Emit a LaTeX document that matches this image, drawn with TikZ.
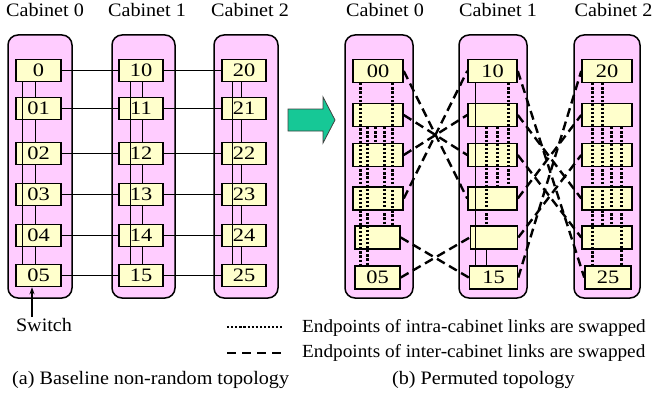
\documentclass[tikz,border=0pt]{standalone}
\usepackage{fontspec}
\setmainfont[FakeStretch=1.06]{Liberation Serif}
\newfontfamily\numfont[FakeStretch=1.18]{Liberation Serif}
\newfontfamily\legendfont[FakeStretch=1.04]{Liberation Serif}
\usetikzlibrary{arrows.meta}

\definecolor{cabpink}{RGB}{255,204,255}
\definecolor{swyellow}{RGB}{255,255,204}
\definecolor{arrowgreen}{RGB}{22,200,150}

\begin{document}
\begin{tikzpicture}[x=1pt,y=-1pt,
  cab/.style={draw=black, line width=1.5pt, fill=cabpink, rounded corners=10pt, inner sep=0pt},
  sw/.style={draw=black, line width=1.5pt, fill=swyellow, minimum height=22pt, inner sep=0pt,
    font=\numfont\fontsize{19}{19}\selectfont},
  swr/.style={sw, minimum height=23pt},
  link/.style={line width=1.2pt},
  dotlink/.style={line width=2.8pt, dash pattern=on 2.2pt off 1.9pt},
  dashlink/.style={line width=2.4pt, dash pattern=on 9pt off 5pt},
  lbl/.style={font=\fontsize{19}{22}\selectfont, inner sep=0pt},
  legendtext/.style={font=\legendfont\fontsize{18.5}{22}\selectfont, inner sep=0pt}]
\useasboundingbox (0,0) rectangle (652,401);
\fill[white] (0,0) rectangle (652,401);

% ---------- (a) baseline topology ----------
\node[cab, minimum width=64pt, minimum height=263pt] (ca0) at (40,166.5) {};
\node[cab, minimum width=63pt, minimum height=263pt] (ca1) at (143.5,166.5) {};
\node[cab, minimum width=64pt, minimum height=263pt] (ca2) at (246,166.5) {};

\node[lbl, anchor=base] (tca0) at (45,17) {Cabinet 0};
\node[lbl, anchor=base] (tca1) at (147,17) {Cabinet 1};
\node[lbl, anchor=base] (tca2) at (250,17) {Cabinet 2};

\foreach \r/\y/\la/\lb/\lc in {0/70.5/0/10/20, 1/108.5/01/11/21, 2/153.5/02/12/22,
                               3/194.5/03/13/23, 4/235.5/04/14/24, 5/275.5/05/15/25} {
  \node[sw, minimum width=45pt] (a0\r) at (38.5,\y) {\la};
  \node[sw, minimum width=44pt] (a1\r) at (141,\y) {\lb};
  \node[sw, minimum width=44pt] (a2\r) at (244,\y) {\lc};
}

% links between neighbouring switches of a cabinet
\foreach \r/\s in {0/1,1/2,2/3,3/4,4/5} {
  \draw[link] ([xshift=20pt]a0\r.south west) -- ([xshift=20pt]a0\r.south west |- a0\s.north);
  \draw[link] ([xshift=24pt]a1\r.south west) -- ([xshift=24pt]a1\r.south west |- a1\s.north);
  \draw[link] ([xshift=20pt]a2\r.south west) -- ([xshift=20pt]a2\r.south west |- a2\s.north);
}
% wrap-around links from top to bottom switch
\draw[link] ([xshift=7pt]a00.south west) -- ([xshift=7pt]a00.south west |- a05.north);
\draw[link] ([xshift=12pt]a10.south west) -- ([xshift=12pt]a10.south west |- a15.north);
\draw[link] ([xshift=11pt]a20.south west) -- ([xshift=11pt]a20.south west |- a25.north);

% inter-cabinet links
\foreach \r in {0,...,5} {
  \draw[link] (a0\r.east) -- (a1\r.west);
  \draw[link] (a1\r.east) -- (a2\r.west);
}

\coordinate (swtail) at (32,317);
\draw[line width=1.1pt, -{Stealth[length=7pt,width=5pt]}] (swtail) -- (swtail |- a05.south);
\node[lbl, anchor=base] (swlbl) at (44,331) {Switch};

\node[lbl, anchor=base west] (capa) at (12,384) {(a) Baseline non-random topology};

% ---------- transition arrow ----------
\draw[fill=arrowgreen, draw=black!75, line width=0.8pt]
  (288,109) -- (323,109) -- (323,97) -- (335,120) -- (323,143) -- (323,131) -- (288,131) -- cycle;

% ---------- (b) permuted topology ----------
\node[cab, minimum width=68pt, minimum height=263pt] (cb0) at (379,166.5) {};
\node[cab, minimum width=68pt, minimum height=263pt] (cb1) at (493,166.5) {};
\node[cab, minimum width=66pt, minimum height=263pt] (cb2) at (607,166.5) {};

\node[lbl, anchor=base] (tcb0) at (385,17) {Cabinet 0};
\node[lbl, anchor=base] (tcb1) at (498,17) {Cabinet 1};
\node[lbl, anchor=base] (tcb2) at (613.5,17) {Cabinet 2};

\node[swr, minimum width=50pt] (b00) at (378,71) {00};
\node[swr, minimum width=50pt] (b01) at (378,115) {};
\node[swr, minimum width=50pt] (b02) at (378,155) {};
\node[swr, minimum width=50pt] (b03) at (378,198.5) {};
\node[swr, minimum width=45pt] (b04) at (377.5,237.5) {};
\node[swr, minimum width=45pt] (b05) at (377.5,277.5) {05};

\node[swr, minimum width=49pt] (b10) at (492.5,71) {10};
\node[swr, minimum width=49pt] (b11) at (492.5,115) {};
\node[swr, minimum width=49pt] (b12) at (492.5,155) {};
\node[swr, minimum width=49pt] (b13) at (492.5,198.5) {};
\node[swr, minimum width=47pt] (b14) at (494,237.5) {};
\node[swr, minimum width=48pt] (b15) at (493.5,277.5) {15};

\node[swr, minimum width=50pt] (b20) at (607,71) {20};
\node[swr, minimum width=50pt] (b21) at (607,115) {};
\node[swr, minimum width=50pt] (b22) at (607,155) {};
\node[swr, minimum width=50pt] (b23) at (607,198.5) {};
\node[swr, minimum width=50pt] (b24) at (607,237.5) {};
\node[swr, minimum width=46pt] (b25) at (608,277.5) {25};

% swapped intra-cabinet links, cabinet 0
\draw[dotlink] ([xshift=8pt]b00.south west) -- ([xshift=8pt]b00.south west |- b05.north);
\draw[dotlink] ([xshift=40pt]b00.south west) -- ([xshift=40pt]b00.south west |- b04.north);
\draw[dotlink] ([xshift=15pt]b01.south west) -- ([xshift=15pt]b01.south west |- b05.north);
\draw[dotlink] ([xshift=23pt]b01.south west) -- ([xshift=23pt]b01.south west |- b02.north);
\draw[dotlink] ([xshift=32pt]b01.south west) -- ([xshift=32pt]b01.south west |- b04.north);

% cabinet 1
\draw[link] ([xshift=8pt]b10.south west) -- ([xshift=8pt]b10.south west |- b15.north);
\draw[link] ([xshift=19pt]b10.south west |- b14.south) -- ([xshift=19pt]b10.south west |- b15.north);
\draw[dotlink] ([xshift=41pt]b10.south west) -- ([xshift=41pt]b10.south west |- b13.north);
\draw[dotlink] ([xshift=30pt]b11.south west) -- ([xshift=30pt]b11.south west |- b13.north);
\draw[dotlink] ([xshift=19pt]b11.south west) -- ([xshift=19pt]b11.south west |- b14.north);

% cabinet 2
\draw[dotlink] ([xshift=11pt]b20.south west) -- ([xshift=11pt]b20.south west |- b25.north);
\draw[dotlink] ([xshift=21pt]b20.south west) -- ([xshift=21pt]b20.south west |- b24.north);
\draw[dotlink] ([xshift=30pt]b21.south west) -- ([xshift=30pt]b21.south west |- b24.north);
\draw[dotlink] ([xshift=40pt]b21.south west) -- ([xshift=40pt]b21.south west |- b25.north);

% swapped inter-cabinet links
\draw[dashlink] (b00.east) -- (b13.west);
\draw[dashlink] (b01.east) -- (b12.west);
\draw[dashlink] (b02.east) -- (b11.west);
\draw[dashlink] (b03.east) -- (b10.west);
\draw[dashlink] (b04.east) -- (b15.west);
\draw[dashlink] (b05.east) -- (b14.west);

\draw[dashlink] (b10.east) -- (b25.west);
\draw[dashlink] (b11.east) -- (b23.west);
\draw[dashlink] (b12.east) -- (b24.west);
\draw[dashlink] (b13.east) -- (b21.west);
\draw[dashlink] (b14.east) -- (b22.west);
\draw[dashlink] (b15.east) -- (b20.west);

% legend
\coordinate (lga) at (227,327);
\coordinate (lgb) at (282,327);
\coordinate (lgc) at (227,353);
\coordinate (lgd) at (282,353);
\draw[dotlink, line width=2.4pt] (lga) -- (lgb);
\draw[dashlink, dash pattern=on 9pt off 6pt] (lgc) -- (lgd);
\node[legendtext, anchor=base west] (lgt1) at (302,332) {Endpoints of intra-cabinet links are swapped};
\node[legendtext, anchor=base west] (lgt2) at (302,357) {Endpoints of inter-cabinet links are swapped};

\node[lbl, anchor=base west] (capb) at (392,384) {(b) Permuted topology};
\end{tikzpicture}
\end{document}
